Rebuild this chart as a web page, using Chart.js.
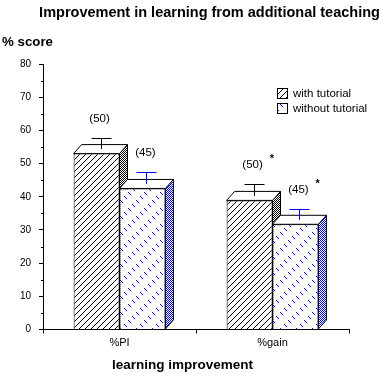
<!DOCTYPE html>
<html>
<head>
<meta charset="utf-8">
<script src="https://cdn.jsdelivr.net/npm/chart.js"></script>
<style>
  html, body { margin: 0; padding: 0; background: #fff; }
  #wrap { width: 389px; height: 377px; }
</style>
</head>
<body>
<div id="wrap"><canvas id="c" width="389" height="377"></canvas></div>
<script>
// ---- data ----
const categories = ['%PI', '%gain'];
const seriesNames = ['with tutorial', 'without tutorial'];
const withTutorial = [53.0, 38.9];
const withoutTutorial = [42.5, 31.7];
const errWith = [3.4, 3.5];
const errWithout = [3.5, 3.4];
const nWith = [50, 50];
const nWithout = [45, 45];
const sigWith = ['', '*'];
const sigWithout = ['', '*'];
const chartTitle = 'Improvement in learning from additional teaching';
const yTitle = '% score';
const xTitle = 'learning improvement';

// ---- patterns ----
const canvas = document.getElementById('c');
const mainCtx = canvas.getContext('2d');
const BLUE = '#0000ff';

function tile(w, h, draw) {
  const c = document.createElement('canvas');
  c.width = w; c.height = h;
  const g = c.getContext('2d');
  g.fillStyle = '#fff'; g.fillRect(0, 0, w, h);
  draw(g);
  return mainCtx.createPattern(c, 'repeat');
}
const hatchPattern = tile(6, 6, g => {
  g.fillStyle = '#000';
  for (let i = 0; i < 6; i++) g.fillRect(i, 5 - i, 1, 1);
});
const dashPattern = tile(32, 32, g => {
  g.fillStyle = BLUE;
  for (let a = 0; a < 16; a++) for (let b = 0; b < 16; b++) {
    const px = ((a * 4 + b * 8) % 32 + 32) % 32;
    const py = ((-a * 4 + b * 8) % 32 + 32) % 32;
    for (let k = 0; k < 3; k++) g.fillRect((px + k) % 32, (py + k) % 32, 1, 1);
  }
});
const checkBlack = tile(2, 2, g => { g.fillStyle = '#000'; g.fillRect(0,0,1,1); g.fillRect(1,1,1,1); });
const checkBlue = tile(2, 2, g => { g.fillStyle = BLUE; g.fillRect(0,0,1,1); g.fillRect(1,1,1,1); });

const frontPatterns = [hatchPattern, dashPattern];
const sidePatterns = [checkBlack, checkBlue];
const errColors = ['#000', BLUE];
const errors = [errWith, errWithout];
const counts = [nWith, nWithout];
const sigs = [sigWith, sigWithout];

const DX = 8, DY = 9;

const depthPlugin = {
  id: 'depth3d',
  beforeDatasetsDraw(chart) {
    const ctx = chart.ctx;
    chart.data.datasets.forEach((ds, di) => {
      const meta = chart.getDatasetMeta(di);
      meta.data.forEach(bar => {
        const p = bar.getProps(['x', 'y', 'base', 'width'], true);
        const x0 = p.x - p.width / 2, x1 = p.x + p.width / 2;
        const y = p.y, base = p.base;
        ctx.save();
        ctx.lineWidth = 1;
        ctx.strokeStyle = '#000';
        // side face
        ctx.beginPath();
        ctx.moveTo(x1, y); ctx.lineTo(x1 + DX, y - DY);
        ctx.lineTo(x1 + DX, base - DY); ctx.lineTo(x1, base); ctx.closePath();
        ctx.fillStyle = sidePatterns[di]; ctx.fill(); ctx.stroke();
        // top face
        ctx.beginPath();
        ctx.moveTo(x0, y); ctx.lineTo(x0 + DX, y - DY);
        ctx.lineTo(x1 + DX, y - DY); ctx.lineTo(x1, y); ctx.closePath();
        ctx.fillStyle = '#fff'; ctx.fill(); ctx.stroke();
        ctx.restore();
      });
    });
  },
  afterDatasetsDraw(chart) {
    const ctx = chart.ctx;
    const yS = chart.scales.y;
    chart.data.datasets.forEach((ds, di) => {
      const meta = chart.getDatasetMeta(di);
      meta.data.forEach((bar, i) => {
        const p = bar.getProps(['x', 'y', 'width'], true);
        const cx = Math.round(p.x + DX / 2) + 0.5;
        const yMid = p.y - DY / 2;
        const yErr = Math.round(yS.getPixelForValue(ds.data[i] + errors[di][i]) - DY / 2) + 0.5;
        ctx.save();
        ctx.strokeStyle = errColors[di];
        ctx.lineWidth = 1;
        ctx.beginPath();
        ctx.moveTo(cx, yErr); ctx.lineTo(cx, yMid);
        ctx.moveTo(cx - 10, yErr); ctx.lineTo(cx + 10, yErr);
        ctx.stroke();
        // n labels
        ctx.fillStyle = '#000';
        ctx.font = '11.5px "Liberation Sans", Arial, sans-serif';
        ctx.textAlign = 'center';
        ctx.textBaseline = 'middle';
        const lx = p.x + 3, ly = yErr - 20;
        const label = '(' + counts[di][i] + ')';
        ctx.fillText(label, lx, ly);
        if (sigs[di][i]) {
          const w = ctx.measureText(label).width;
          ctx.font = 'bold 11px "Liberation Sans", Arial, sans-serif';
          ctx.fillText(sigs[di][i], lx + w / 2 + 9, ly - 6);
        }
        ctx.restore();
      });
    });
  },
  afterDraw(chart) {
    const ctx = chart.ctx;
    const yS = chart.scales.y;
    const area = chart.chartArea;
    ctx.save();
    ctx.fillStyle = '#000';
    // title
    ctx.font = 'bold 14.5px "Liberation Sans", Arial, sans-serif';
    ctx.textAlign = 'center'; ctx.textBaseline = 'alphabetic';
    ctx.fillText(chartTitle, 209.5, 17);
    // y title
    ctx.font = 'bold 13.3px "Liberation Sans", Arial, sans-serif';
    ctx.textAlign = 'left';
    ctx.fillText(yTitle, 2, 46);
    // x title
    ctx.font = 'bold 13.5px "Liberation Sans", Arial, sans-serif';
    ctx.fillText(xTitle, 112, 369);
    // minor y ticks
    ctx.strokeStyle = '#000'; ctx.lineWidth = 1;
    ctx.beginPath();
    for (let v = 5; v < 80; v += 10) {
      const y = Math.round(yS.getPixelForValue(v)) + 0.5;
      ctx.moveTo(area.left - 2, y); ctx.lineTo(area.left, y);
    }
    ctx.stroke();
    // legend
    ctx.font = '11.5px "Liberation Sans", Arial, sans-serif';
    ctx.textBaseline = 'middle';
    seriesNames.forEach((name, k) => {
      const bx = 277.5, by = 88.5 + k * 15;
      ctx.fillStyle = frontPatterns[k];
      ctx.fillRect(bx, by, 10, 10);
      ctx.strokeStyle = '#000';
      ctx.strokeRect(bx, by, 10, 10);
      ctx.fillStyle = '#000';
      ctx.fillText(name, 293, by + 5);
    });
    ctx.restore();
  }
};

Chart.defaults.font.family = '"Liberation Sans", Arial, sans-serif';
Chart.defaults.color = '#000';

new Chart(canvas, {
  type: 'bar',
  data: {
    labels: categories,
    datasets: [
      { label: seriesNames[0], data: withTutorial, backgroundColor: hatchPattern,
        borderColor: '#000', borderWidth: 1, borderSkipped: 'bottom',
        categoryPercentage: 0.6, barPercentage: 1.0 },
      { label: seriesNames[1], data: withoutTutorial, backgroundColor: dashPattern,
        borderColor: '#000', borderWidth: 1, borderSkipped: 'bottom',
        categoryPercentage: 0.6, barPercentage: 1.0 }
    ]
  },
  options: {
    responsive: false,
    animation: false,
    devicePixelRatio: 1,
    layout: { padding: { left: 5, right: 40, top: 64, bottom: 27.5 } },
    plugins: { legend: { display: false }, title: { display: false }, tooltip: { enabled: false } },
    scales: {
      x: {
        offset: true,
        grid: { display: true, drawOnChartArea: false, drawTicks: true, tickLength: 4, color: '#000', offset: true },
        border: { display: true, color: '#000', width: 1 },
        ticks: { font: { size: 11 }, color: '#000', padding: 3 },
        afterFit: s => { s.height = 20; }
      },
      y: {
        min: 0, max: 80,
        grid: { display: true, drawOnChartArea: false, drawTicks: true, tickLength: 4, color: '#000' },
        border: { display: true, color: '#000', width: 1 },
        ticks: { stepSize: 10, font: { size: 10 }, color: '#000', padding: 8 },
        afterFit: s => { s.width = 38; }
      }
    }
  },
  plugins: [depthPlugin]
});
</script>
</body>
</html>
